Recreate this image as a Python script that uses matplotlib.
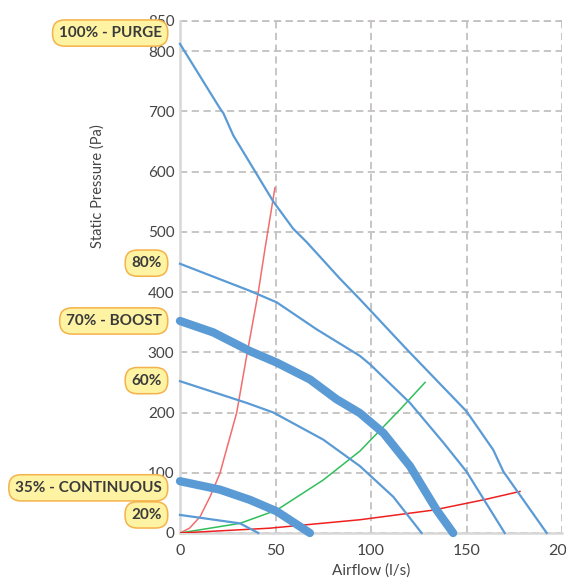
import matplotlib.pyplot as plt
import matplotlib.transforms as mtransforms

# fan curves (airflow l/s, static pressure Pa)
purge_x = [0, 20.9, 22.7, 27.9, 38.4, 48.9, 59.3, 66.3, 83.8, 94.2, 118.7, 150, 164, 169.3, 192]
purge_y = [812, 705, 697, 660, 605, 550, 505, 483, 422, 388, 305, 202, 138, 102, 0]

p80_x = [0, 36.6, 50.6, 71.6, 94.2, 99.5, 120.4, 137.9, 150, 170]
p80_y = [447, 402, 383, 338, 294, 280, 216, 150, 102, 0]

boost_x = [0, 17.4, 36.6, 50.6, 68, 82, 94.2, 106.5, 120.4, 134.4, 143]
boost_y = [352, 333, 302, 283, 255, 222, 199, 166, 111, 38, 0]

p60_x = [0, 34.9, 48.9, 75, 94.2, 111.7, 126.5]
p60_y = [252, 216, 200, 155, 111, 60, 0]

cont_x = [0, 20.9, 36.6, 50.6, 68]
cont_y = [86, 72, 55, 36, 0]

p20_x = [0, 31.4, 41]
p20_y = [30, 16, 0]

# system curves
sys_hi_x = [0, 5, 10.5, 15.7, 20.9, 29.7, 34.9, 41, 44.5, 49.7]
sys_hi_y = [0, 8, 27, 60, 99, 200, 294, 400, 472, 573]

sys_mid_x = [0, 31.4, 50.6, 75, 94.2, 115.2, 128.3]
sys_mid_y = [0, 16, 38, 88, 136, 205, 250]

sys_lo_x = [0, 47, 94.2, 132.6, 158.8, 178]
sys_lo_y = [0, 8, 22, 38, 55, 69]

label_text = ["100% - PURGE", "80%", "70% - BOOST", "60%", "35% - CONTINUOUS", "20%"]
label_y = [830, 448, 352, 253, 75, 30]

x_ticks = [0, 50, 100, 150, 200]
y_ticks = [0, 100, 200, 300, 400, 500, 600, 700, 800, 850]

blue = "#5b9bd5"
grid_col = "#c4c0c0"

plt.rcParams['font.family'] = ['Lato', 'DejaVu Sans']

fig = plt.figure(figsize=(5.66, 5.87), dpi=100)
ax = fig.add_axes([180 / 566, 54 / 587, 382 / 566, 512 / 587])

ax.plot(sys_hi_x, sys_hi_y, color="#f26d6d", lw=1.1, zorder=3)
ax.plot(sys_mid_x, sys_mid_y, color="#2fbf5a", lw=1.1, zorder=3)
ax.plot(sys_lo_x, sys_lo_y, color="#ee2020", lw=1.1, zorder=3)

for xs, ys in [(purge_x, purge_y), (p80_x, p80_y), (p60_x, p60_y), (p20_x, p20_y)]:
    ax.plot(xs, ys, color=blue, lw=1.6, zorder=4, clip_on=False)
for xs, ys in [(boost_x, boost_y), (cont_x, cont_y)]:
    ax.plot(xs, ys, color=blue, lw=6, solid_capstyle="round", zorder=5, clip_on=False)

ax.set_xlim(0, 200)
ax.set_ylim(0, 850)
ax.set_xticks(x_ticks)
ax.set_yticks(y_ticks)
ax.tick_params(length=0, labelsize=11, colors="#444444", pad=4)
ax.tick_params(axis="x", pad=8, labelsize=11.5)

ax.grid(True, color=grid_col, ls=(0, (4, 2.5)), lw=1.3)
ax.set_axisbelow(True)
for s in ["top", "right"]:
    ax.spines[s].set_visible(False)
for s in ["left", "bottom"]:
    ax.spines[s].set_color("#d8d8d8")
    ax.spines[s].set_linewidth(1.8)
ax.axhline(850, color=grid_col, ls=(0, (4, 2.5)), lw=1.3, zorder=0, clip_on=False)

ax.set_xlabel("Airflow (l/s)", fontsize=11, color="#444444", labelpad=4)
fig.text(98 / 566, 1 - 186 / 587, "Static Pressure (Pa)", rotation=90,
         ha="center", va="center", fontsize=10.5, color="#444444")

trans = mtransforms.blended_transform_factory(ax.transAxes, ax.transData)
for txt, yv in zip(label_text, label_y):
    ax.text(-0.048, yv, txt, transform=trans, ha="right", va="center",
            fontsize=11, fontweight="bold", color="#3a3a3a", zorder=10, clip_on=False,
            bbox=dict(boxstyle="round,pad=0.4,rounding_size=0.8", fc="#fdf3a3",
                      ec="#f5b24a", lw=1.1))

fig.savefig("out.png", dpi=100)
